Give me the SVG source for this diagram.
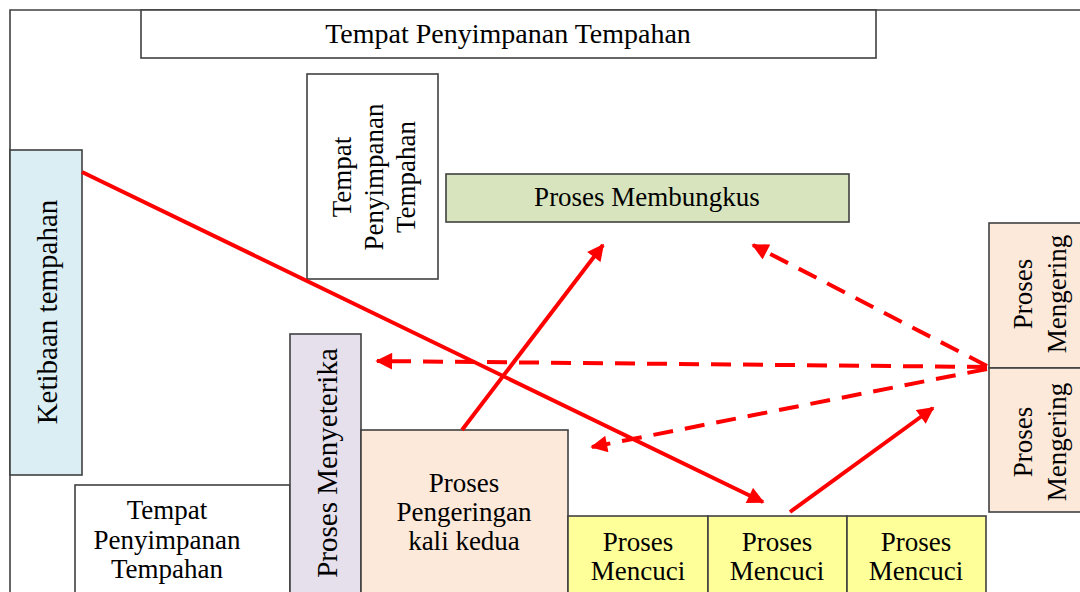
<svg xmlns="http://www.w3.org/2000/svg" width="1080" height="592" viewBox="0 0 1080 592">
<defs>
<style>
.b{stroke:#404040;stroke-width:1.6}
.t{font-family:"Liberation Serif","Times New Roman",serif;font-size:27px;fill:#000;text-anchor:middle;dominant-baseline:central}
.L{font-size:29px}
.c{stroke:#FF0000;stroke-width:4;fill:none}
.d{stroke-dasharray:20 12}
</style>
<marker id="ah" viewBox="0 0 10 10" refX="9" refY="5" markerWidth="4.4" markerHeight="4.2" markerUnits="strokeWidth" orient="auto">
<path d="M0,0 L10,5 L0,10 z" fill="#FF0000"/>
</marker>
</defs>
<rect width="1080" height="592" fill="#fff"/>
<path d="M10,592 V10 H1080" fill="none" class="b"/>
<g id="n-top"><rect x="141" y="10" width="735" height="48" fill="#fff" class="b"/><text class="t" x="508" y="33" style="font-size:28px">Tempat Penyimpanan Tempahan</text></g>
<g id="n-ketibaan"><rect x="10" y="150" width="72" height="325" fill="#DAEEF3" class="b"/><text class="t L" transform="translate(47,312) rotate(-90)">Ketibaan tempahan</text></g>
<g id="n-tempat-v"><rect x="307" y="74" width="131" height="205" fill="#fff" class="b"/><g transform="translate(374,177) rotate(-90)"><text class="t" x="0" y="-32">Tempat</text><text class="t" x="0" y="0">Penyimpanan</text><text class="t" x="0" y="32">Tempahan</text></g></g>
<g id="n-membungkus"><rect x="446" y="174" width="403" height="48" fill="#D7E4BD" class="b"/><text class="t" x="647" y="197">Proses Membungkus</text></g>
<g id="n-tempat-b"><rect x="75" y="485" width="215" height="120" fill="#fff" class="b"/><text class="t" x="167" y="510">Tempat</text><text class="t" x="167" y="540">Penyimpanan</text><text class="t" x="167" y="569">Tempahan</text></g>
<g id="n-menyeterika"><rect x="290" y="334" width="71" height="270" fill="#E5E0EC" class="b"/><text class="t L" transform="translate(327,463) rotate(-90)">Proses Menyeterika</text></g>
<g id="n-pengeringan"><rect x="361" y="430" width="207" height="175" fill="#FDE9D9" class="b"/><text class="t" x="464" y="483">Proses</text><text class="t" x="464" y="512">Pengeringan</text><text class="t" x="464" y="541">kali kedua</text></g>
<g id="n-mencuci1"><rect x="568" y="516" width="140" height="90" fill="#FFFF99" class="b"/><text class="t" x="638" y="542">Proses</text><text class="t" x="638" y="571">Mencuci</text></g>
<g id="n-mencuci2"><rect x="708" y="516" width="139" height="90" fill="#FFFF99" class="b"/><text class="t" x="777" y="542">Proses</text><text class="t" x="777" y="571">Mencuci</text></g>
<g id="n-mencuci3"><rect x="847" y="516" width="139" height="90" fill="#FFFF99" class="b"/><text class="t" x="916" y="542">Proses</text><text class="t" x="916" y="571">Mencuci</text></g>
<g id="n-mengering1"><rect x="989" y="223" width="110" height="145" fill="#FDE9D9" class="b"/><g transform="translate(1041,294) rotate(-90)"><text class="t" x="0" y="-18">Proses</text><text class="t" x="0" y="16">Mengering</text></g></g>
<g id="n-mengering2"><rect x="989" y="368" width="110" height="144" fill="#FDE9D9" class="b"/><g transform="translate(1041,442) rotate(-90)"><text class="t" x="0" y="-18">Proses</text><text class="t" x="0" y="16">Mengering</text></g></g>
<g id="connectors">
<line class="c" x1="82" y1="172" x2="763" y2="502" marker-end="url(#ah)"/>
<line class="c" x1="462" y1="430" x2="603" y2="245" marker-end="url(#ah)"/>
<line class="c" x1="790" y1="512" x2="933" y2="408" marker-end="url(#ah)"/>
<line class="c d" x1="987" y1="366" x2="753" y2="245" marker-end="url(#ah)"/>
<line class="c d" x1="987" y1="367" x2="377" y2="361" marker-end="url(#ah)"/>
<line class="c d" x1="987" y1="369" x2="592" y2="447" marker-end="url(#ah)"/>
</g>
</svg>
